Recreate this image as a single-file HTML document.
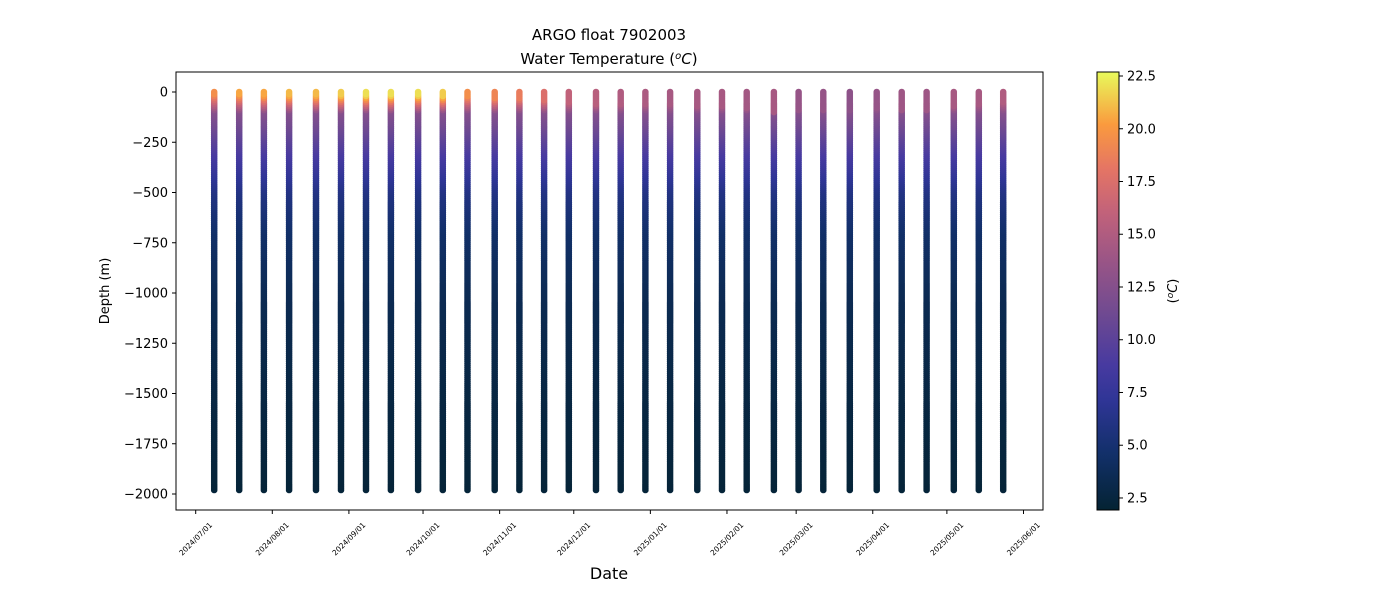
<!DOCTYPE html>
<html><head><meta charset="utf-8"><style>
body{margin:0;background:#fff;}
svg{font-family:"DejaVu Sans","Liberation Sans",sans-serif;}
</style></head><body>
<svg id="chart" width="1400" height="600">
<defs>
<linearGradient id="cbgrad" x1="0" y1="1" x2="0" y2="0">
<stop offset="0" stop-color="#042333"/><stop offset="0.13" stop-color="#12306a"/><stop offset="0.25" stop-color="#2f3596"/><stop offset="0.33" stop-color="#473aa0"/><stop offset="0.45" stop-color="#704a91"/><stop offset="0.57" stop-color="#9a5586"/><stop offset="0.68" stop-color="#c2627a"/><stop offset="0.78" stop-color="#e57564"/><stop offset="0.88" stop-color="#fa9a3e"/><stop offset="1" stop-color="#e8fa5b"/>
</linearGradient>
</defs>
<text x="609" y="40" text-anchor="middle" font-size="15">ARGO float 7902003</text>
<text x="609" y="64" text-anchor="middle" font-size="15">Water Temperature (<tspan font-style="italic" dy="-5" font-size="10">o</tspan><tspan font-style="italic" dy="5">C</tspan>)</text>
<g id="marks"></g>
<rect x="176" y="72" width="867" height="438" fill="none" stroke="#000" stroke-width="1"/>
<g id="yaxis"></g><g id="xaxis"></g>
<text transform="translate(109,291) rotate(-90)" text-anchor="middle" font-size="13">Depth (m)</text>
<text x="609" y="579" text-anchor="middle" font-size="16">Date</text>
<rect x="1097" y="72" width="22" height="438" fill="url(#cbgrad)" stroke="#000" stroke-width="1"/>
<g id="cbaxis"></g>
<text transform="translate(1177,291) rotate(-90)" text-anchor="middle" font-size="13">(<tspan font-style="italic" dy="-4" font-size="9">o</tspan><tspan font-style="italic" dy="4">C</tspan>)</text>
</svg>
<script>
// days since 2024-07-01 for each profile
const profileDays=[7.5,17.6,27.6,37.8,48.7,58.8,68.9,79,90,100,110,121,131,141,151,162,172,182,192,203,213,223,234,244,254,264.7,275.6,285.7,295.8,306.8,316.9,326.8];
const surfaceTemps=[19.5,20.5,20.5,21,21,21.5,22,22,22,21.5,19.5,19,18.5,17.5,16,15.5,15,14.8,14.5,14.5,14.5,14.3,14.5,13.5,13.5,13,13.5,14,14,14.5,14.5,15];
const mixedDepths=[10,10,15,15,15,15,15,15,15,20,20,30,30,40,50,60,60,60,60,70,70,80,100,90,90,90,80,90,90,70,60,50];
const baseDepths=[100,200,300,400,500,700,1000,1500,1980];
const baseTemps=[12.5,10.8,9,7.5,6,4.5,3.5,2.7,2.2];
const xTickLabels=["2024/07/01","2024/08/01","2024/09/01","2024/10/01","2024/11/01","2024/12/01","2025/01/01","2025/02/01","2025/03/01","2025/04/01","2025/05/01","2025/06/01"];
const xTickDays=[0,31,62,92,123,153,184,215,243,274,304,335];
const yTicks=[0,-250,-500,-750,-1000,-1250,-1500,-1750,-2000];
const cbTicks=[2.5,5,7.5,10,12.5,15,17.5,20,22.5];

const xS=d=>195.7+d*2.471;
const yS=v=>92+(-v)*0.201;
const cMin=1.93,cMax=22.69;
const cbS=t=>510-(t-cMin)/(cMax-cMin)*438;
const stops=[[0,[4,35,51]],[0.13,[18,48,106]],[0.25,[47,53,150]],[0.33,[71,58,160]],[0.45,[112,74,145]],[0.57,[154,85,134]],[0.68,[194,98,122]],[0.78,[229,117,100]],[0.88,[250,154,62]],[1,[232,250,91]]];
function cmap(t){let f=Math.max(0,Math.min(1,(t-cMin)/(cMax-cMin)));
 for(let i=1;i<stops.length;i++){if(f<=stops[i][0]){const a=stops[i-1],b=stops[i];const k=(f-a[0])/(b[0]-a[0]);
 return 'rgb('+a[1].map((v,j)=>Math.round(v+(b[1][j]-v)*k)).join(',')+')';}}return 'rgb(232,250,91)';}
function tempAt(p,d){const T0=surfaceTemps[p],md=mixedDepths[p];
 if(d<=md)return T0;
 if(d<=100){return T0+(baseTemps[0]-T0)*(d-md)/Math.max(1,100-md);}
 for(let i=1;i<baseDepths.length;i++){if(d<=baseDepths[i]){const k=(d-baseDepths[i-1])/(baseDepths[i]-baseDepths[i-1]);return baseTemps[i-1]+(baseTemps[i]-baseTemps[i-1])*k;}}
 return baseTemps[baseTemps.length-1];}
const NS='http://www.w3.org/2000/svg';
const marks=document.getElementById('marks');
profileDays.forEach((day,p)=>{
 const g=document.createElementNS(NS,'g');
 
 
 const x=xS(day);
 for(let d=1980;d>=0;d-=10){
  const c=document.createElementNS(NS,'circle');
  c.setAttribute('cx',x.toFixed(1));c.setAttribute('cy',yS(-d).toFixed(1));c.setAttribute('r','3.3');
  c.setAttribute('fill',cmap(tempAt(p,d)));
  g.appendChild(c);
 }
 marks.appendChild(g);
});
const yax=document.getElementById('yaxis');
yTicks.forEach(v=>{const y=yS(v);
 const l=document.createElementNS(NS,'line');l.setAttribute('x1',172);l.setAttribute('x2',176);l.setAttribute('y1',y);l.setAttribute('y2',y);l.setAttribute('stroke','#000');
 
 
 yax.appendChild(l);
 const t=document.createElementNS(NS,'text');t.setAttribute('x',168);t.setAttribute('y',y+4.5);t.setAttribute('text-anchor','end');t.setAttribute('font-size','13');
 t.textContent=v===0?'0':'\u2212'+Math.abs(v);
 
 
 yax.appendChild(t);});
const xax=document.getElementById('xaxis');
xTickDays.forEach((d,i)=>{const x=xS(d);
 const l=document.createElementNS(NS,'line');l.setAttribute('x1',x);l.setAttribute('x2',x);l.setAttribute('y1',510);l.setAttribute('y2',514);l.setAttribute('stroke','#000');
 
 
 xax.appendChild(l);
 const t=document.createElementNS(NS,'text');t.setAttribute('transform','translate('+x+',539) rotate(-45)');t.setAttribute('text-anchor','middle');t.setAttribute('dominant-baseline','central');t.setAttribute('font-size','7.5');
 t.textContent=xTickLabels[i];
 
 
 xax.appendChild(t);});
const cba=document.getElementById('cbaxis');
cbTicks.forEach(v=>{const y=cbS(v);
 const l=document.createElementNS(NS,'line');l.setAttribute('x1',1119);l.setAttribute('x2',1123);l.setAttribute('y1',y);l.setAttribute('y2',y);l.setAttribute('stroke','#000');
 
 
 cba.appendChild(l);
 const t=document.createElementNS(NS,'text');t.setAttribute('x',1127);t.setAttribute('y',y+4.5);t.setAttribute('font-size','13');
 t.textContent=v.toFixed(1);
 
 
 cba.appendChild(t);});
</script>
</body></html>
